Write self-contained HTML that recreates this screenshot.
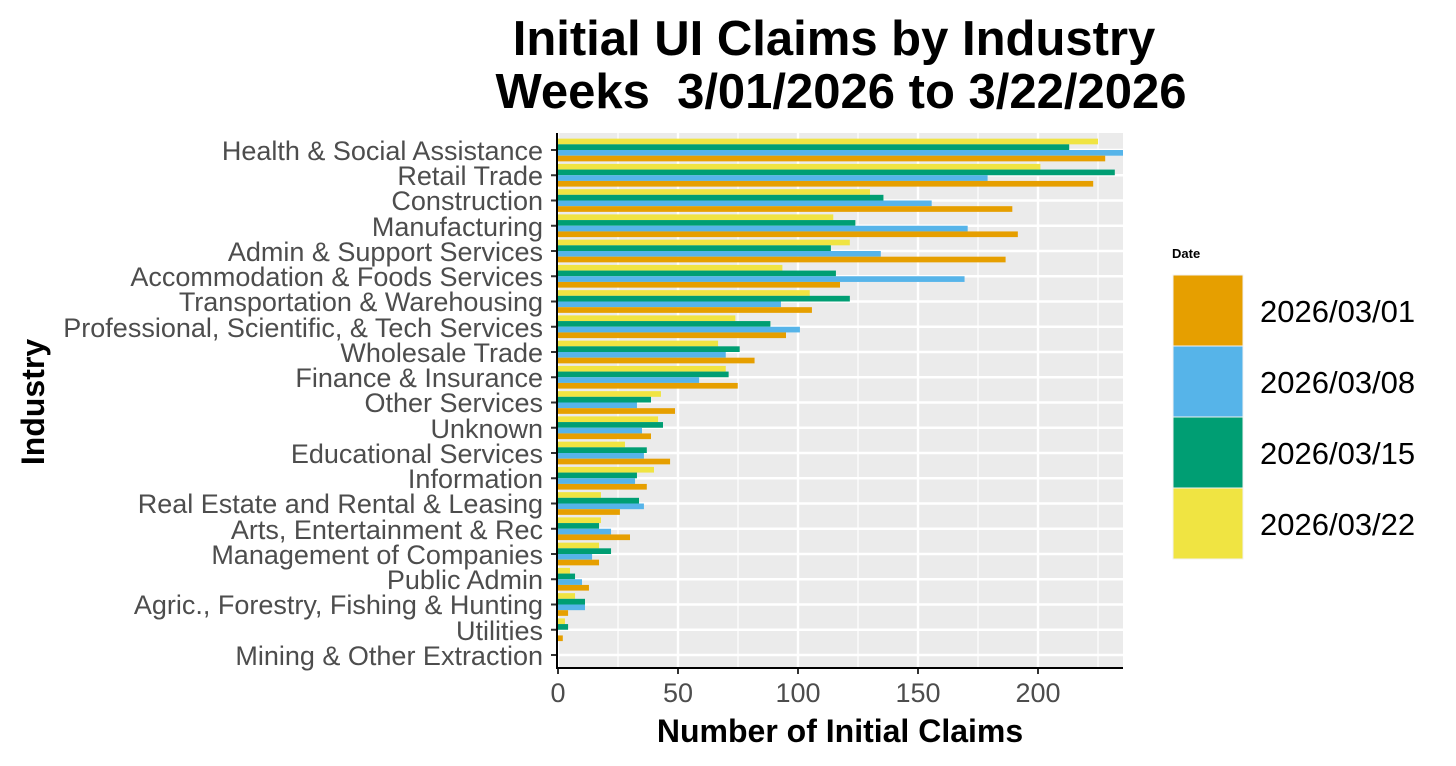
<!DOCTYPE html>
<html><head><meta charset="utf-8"><style>
body{margin:0;background:#fff;}
svg{display:block;font-family:"Liberation Sans",Arial,sans-serif;}
</style></head><body>
<svg id="s" width="1456" height="766" xmlns="http://www.w3.org/2000/svg">
<rect x="0" y="0" width="1456" height="766" fill="#fff"/>
<text x="834" y="55" font-size="49" font-weight="bold" text-anchor="middle">Initial UI Claims by Industry</text>
<text x="841" y="108" font-size="49" font-weight="bold" text-anchor="middle" xml:space="preserve">Weeks  3/01/2026 to 3/22/2026</text>
<rect x="558" y="133" width="565" height="535" fill="#ebebeb"/>
<g id="grid"></g>
<g id="bars"></g>
<line x1="557" y1="133" x2="557" y2="669" stroke="#000" stroke-width="2"/>
<line x1="557" y1="668" x2="1123" y2="668" stroke="#000" stroke-width="2"/>
<g font-size="27" fill="#4d4d4d" text-anchor="end">
<text x="543" y="160">Health &amp; Social Assistance</text>
<text x="543" y="185">Retail Trade</text>
<text x="543" y="210">Construction</text>
<text x="543" y="236">Manufacturing</text>
<text x="543" y="261">Admin &amp; Support Services</text>
<text x="543" y="286">Accommodation &amp; Foods Services</text>
<text x="543" y="311">Transportation &amp; Warehousing</text>
<text x="543" y="337">Professional, Scientific, &amp; Tech Services</text>
<text x="543" y="362">Wholesale Trade</text>
<text x="543" y="387">Finance &amp; Insurance</text>
<text x="543" y="412">Other Services</text>
<text x="543" y="438">Unknown</text>
<text x="543" y="463">Educational Services</text>
<text x="543" y="488">Information</text>
<text x="543" y="513">Real Estate and Rental &amp; Leasing</text>
<text x="543" y="539">Arts, Entertainment &amp; Rec</text>
<text x="543" y="564">Management of Companies</text>
<text x="543" y="589">Public Admin</text>
<text x="543" y="614">Agric., Forestry, Fishing &amp; Hunting</text>
<text x="543" y="640">Utilities</text>
<text x="543" y="665">Mining &amp; Other Extraction</text>
</g>
<g font-size="27" fill="#4d4d4d" text-anchor="middle">
<text x="558" y="702">0</text><text x="678" y="702">50</text><text x="798" y="702">100</text><text x="918" y="702">150</text><text x="1038" y="702">200</text>
</g>
<text x="840" y="742" font-size="32" font-weight="bold" text-anchor="middle">Number of Initial Claims</text>
<text transform="translate(44,402) rotate(-90)" font-size="32" font-weight="bold" text-anchor="middle">Industry</text>
<text x="1172" y="258" font-size="13" font-weight="bold">Date</text>
<rect x="1173" y="275" width="70" height="71" fill="#E69F00" stroke="#f2f2f2" stroke-width="1"/>
<rect x="1173" y="346" width="70" height="71" fill="#56B4E9" stroke="#f2f2f2" stroke-width="1"/>
<rect x="1173" y="417" width="70" height="71" fill="#009E73" stroke="#f2f2f2" stroke-width="1"/>
<rect x="1173" y="488" width="70" height="71" fill="#F0E442" stroke="#f2f2f2" stroke-width="1"/>
<g font-size="31" fill="#000">
<text x="1260" y="322">2026/03/01</text>
<text x="1260" y="393">2026/03/08</text>
<text x="1260" y="464">2026/03/15</text>
<text x="1260" y="535">2026/03/22</text>
</g>
</svg>
<script>
var NS="http://www.w3.org/2000/svg";
function el(p,t,a){var e=document.createElementNS(NS,t);for(var k in a)e.setAttribute(k,a[k]);p.appendChild(e);}
var g=document.getElementById("grid"),b=document.getElementById("bars");
[25,75,125,175,225].forEach(function(v){var x=558+v*2.4;el(g,"line",{x1:x,x2:x,y1:133,y2:668,stroke:"#fff","stroke-width":1.2});});
[0,50,100,150,200].forEach(function(v){var x=558+v*2.4;el(g,"line",{x1:x,x2:x,y1:133,y2:668,stroke:"#fff","stroke-width":2.4});
el(g,"line",{x1:x,x2:x,y1:668,y2:674,stroke:"#333","stroke-width":2});});
var d=[[225,213,236,228],[201,232,179,223],[130,135.6,155.7,189.3],[114.7,123.9,170.7,191.6],[121.6,113.7,134.5,186.5],[93.5,115.8,169.4,117.5],[104.9,121.6,92.9,105.8],[73.9,88.5,100.8,95],[66.7,75.7,69.9,81.9],[69.9,71.1,58.8,74.9],[42.9,38.75,32.9,48.75],[41.7,43.75,35,38.75],[27.9,37,35.8,46.7],[40,32.9,32.1,37],[17.9,33.75,35.8,25.8],[17.9,17.1,22.1,30],[17.1,22.1,14.2,17.1],[5,7.1,10,12.9],[7.1,11.25,11.25,4.2],[2.9,4.2,0,2],[0,0,0,0]];
var c=["#F0E442","#009E73","#56B4E9","#E69F00"];
d.forEach(function(r,i){var yc=150+i*25.25;
el(g,"line",{x1:558,x2:1123,y1:yc,y2:yc,stroke:"#fff","stroke-width":2.4});
el(g,"line",{x1:551,x2:557,y1:yc,y2:yc,stroke:"#333","stroke-width":2});
r.forEach(function(v,k){if(v>0)el(b,"rect",{x:558,y:yc-11.36+k*5.68,width:Math.min(v*2.4,565),height:5.68,fill:c[k]});});});
</script>
</body></html>
